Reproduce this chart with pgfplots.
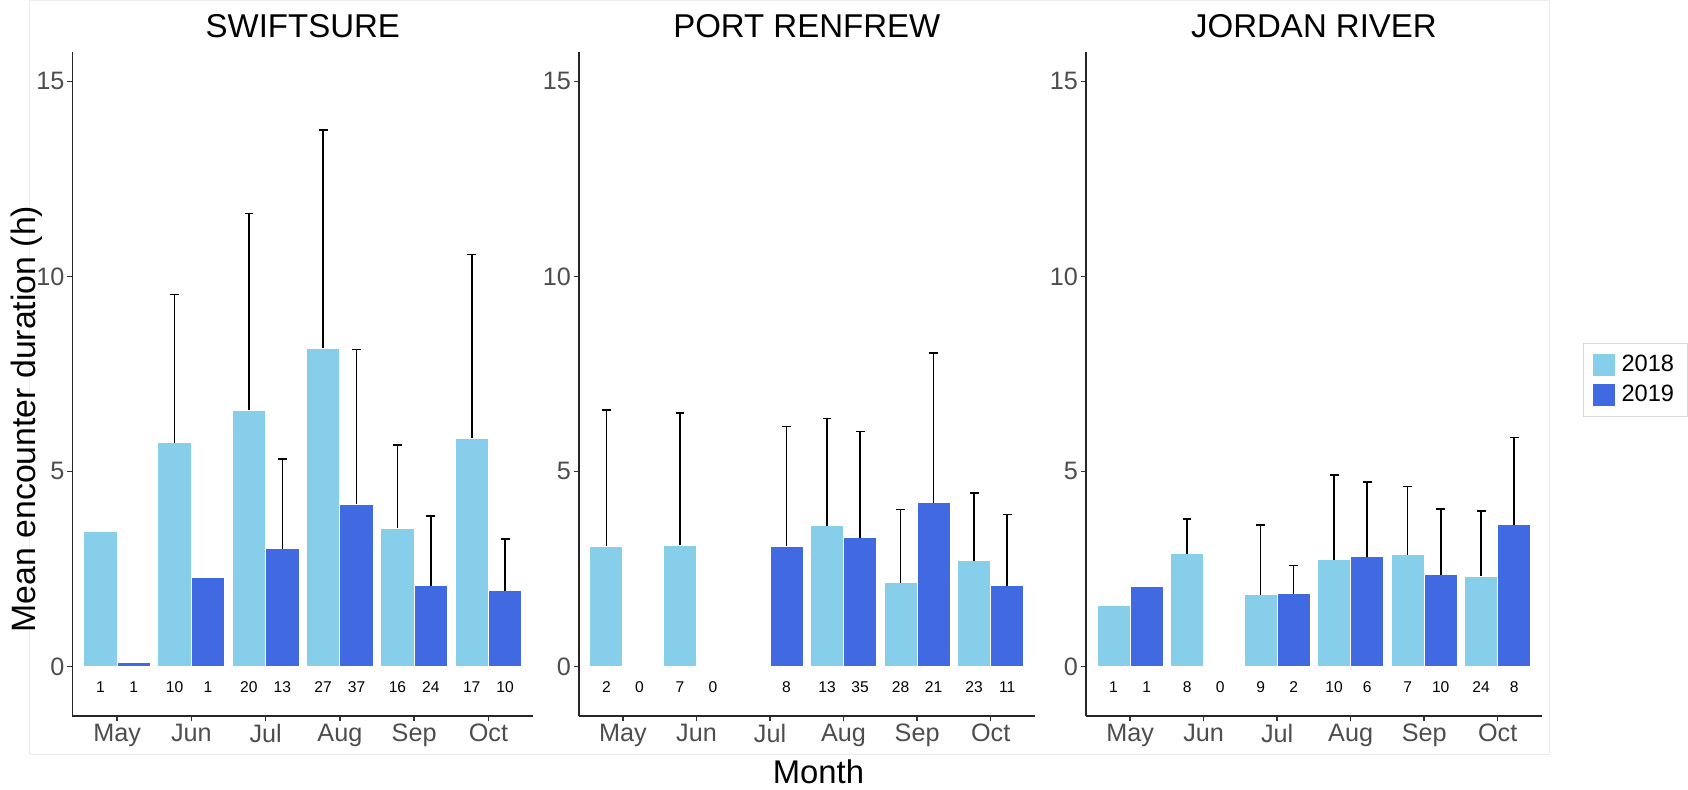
\documentclass[border=0pt]{standalone}
\usepackage{pgfplots}
\pgfplotsset{compat=1.18}
\usepackage{pgfplotstable}
\usepackage{fontspec}
\setmainfont{Liberation Sans}
\definecolor{c2018}{HTML}{87CEEB}
\definecolor{c2019}{HTML}{4169E1}
\definecolor{g30}{HTML}{4D4D4D}

% SWIFTSURE
\pgfplotstableread{
m y t
0 3.47 3.47
1 5.74 9.53
2 6.57 11.61
3 8.16 13.76
4 3.54 5.67
5 5.85 10.56
}\swA
\pgfplotstableread{
m y t
0 0.10 0.10
1 2.29 2.29
2 3.02 5.31
3 4.16 8.12
4 2.07 3.85
5 1.94 3.26
}\swB
\pgfplotstableread{
m y t
1 5.74 9.53
2 6.57 11.61
3 8.16 13.76
4 3.54 5.67
5 5.85 10.56
}\swAe
\pgfplotstableread{
m y t
2 3.02 5.31
3 4.16 8.12
4 2.07 3.85
5 1.94 3.26
}\swBe
\pgfplotstableread{
m n
0 1
1 10
2 20
3 27
4 16
5 17
}\swAn
\pgfplotstableread{
m n
0 1
1 1
2 13
3 37
4 24
5 10
}\swBn
% PORT RENFREW
\pgfplotstableread{
m y t
0 3.08 6.58
1 3.10 6.49
3 3.61 6.36
4 2.14 4.02
5 2.71 4.45
}\prA
\pgfplotstableread{
m y t
2 3.08 6.15
3 3.30 6.02
4 4.19 8.03
5 2.07 3.89
}\prB
\pgfplotstableread{
m n
0 2
1 7
3 13
4 28
5 23
}\prAn
\pgfplotstableread{
m n
0 0
1 0
2 8
3 35
4 21
5 11
}\prBn
% JORDAN RIVER
\pgfplotstableread{
m y t
0 1.55 1.55
1 2.89 3.78
2 1.84 3.62
3 2.73 4.90
4 2.86 4.61
5 2.31 3.98
}\jrA
\pgfplotstableread{
m y t
0 2.04 2.04
2 1.86 2.59
3 2.81 4.73
4 2.35 4.04
5 3.63 5.87
}\jrB
\pgfplotstableread{
m y t
1 2.89 3.78
2 1.84 3.62
3 2.73 4.90
4 2.86 4.61
5 2.31 3.98
}\jrAe
\pgfplotstableread{
m y t
2 1.86 2.59
3 2.81 4.73
4 2.35 4.04
5 3.63 5.87
}\jrBe
\pgfplotstableread{
m n
0 1
1 8
2 9
3 10
4 7
5 24
}\jrAn
\pgfplotstableread{
m n
0 1
1 0
2 2
3 6
4 10
5 8
}\jrBn

\pgfplotsset{
  panel/.style={
    scale only axis, height=331.9pt,
    xmin=-0.6, xmax=5.6, ymin=-1.28, ymax=15.74,
    axis x line*=bottom, axis y line*=left,
    axis line style={black!85, line width=0.9pt},
    xtick={0,...,5}, xticklabels={May,Jun,Jul,Aug,Sep,Oct},
    ytick={0,5,10,15}, yticklabels={0,5,10,15},
    tick style={black!80, line width=0.8pt},
    major tick length=2.6pt,
    tick align=outside,
    ticklabel style={font=\fontsize{12.6pt}{13pt}\selectfont, text=g30},
    yticklabel style={inner sep=1.2pt},
    xticklabel style={inner sep=1.0pt},
    clip=false,
  },
  b18/.style={ybar, bar width=0.45, bar shift=-0.225, fill=c2018, draw=white, line width=0.5pt},
  b19/.style={ybar, bar width=0.45, bar shift=0.225, fill=c2019, draw=white, line width=0.5pt},
  eb/.style={draw=none, mark=none, forget plot,
    error bars/.cd, y dir=plus, y explicit, error mark=none,
    error bar style={draw=black, solid, line width=0.8pt}},
  cap/.style={only marks, mark=-, mark size=2.2pt, black, line width=0.8pt, forget plot},
  cnt/.style={draw=none, mark=none, forget plot, nodes near coords, point meta=explicit symbolic,
    nodes near coords style={anchor=center, font=\fontsize{7.8pt}{8pt}\selectfont, text=black}},
}
% error bar (vertical line) and its cap, for a table and a shift
\newcommand{\errs}[2]{%
  \addplot[eb] table[x expr=\thisrow{m}#2,y=y,y error expr=\thisrow{t}-\thisrow{y}] {#1};
  \addplot[cap] table[x expr=\thisrow{m}#2,y=t] {#1};
}

\begin{document}
\begin{tikzpicture}
\useasboundingbox (0,0) rectangle (844pt,-395pt);
\draw[black!8, line width=0.5pt] (14.5pt,-0.25pt) rectangle (774.8pt,-377.5pt);

% SWIFTSURE
\begin{axis}[panel, width=230.25pt, at={(36.25pt,-26.25pt)}, anchor=north west]
\addplot[b18] table[x=m,y=y] {\swA};
\addplot[b19] table[x=m,y=y] {\swB};
\errs{\swAe}{-0.225}
\errs{\swBe}{+0.225}
\addplot[cnt] table[x expr=\thisrow{m}-0.225, y expr=-0.54, meta=n] {\swAn};
\addplot[cnt] table[x expr=\thisrow{m}+0.225, y expr=-0.54, meta=n] {\swBn};
\end{axis}

% PORT RENFREW
\begin{axis}[panel, width=228pt, at={(289.4pt,-26.25pt)}, anchor=north west]
\addplot[b18] table[x=m,y=y] {\prA};
\addplot[b19] table[x=m,y=y] {\prB};
\errs{\prA}{-0.225}
\errs{\prB}{+0.225}
\addplot[cnt] table[x expr=\thisrow{m}-0.225, y expr=-0.54, meta=n] {\prAn};
\addplot[cnt] table[x expr=\thisrow{m}+0.225, y expr=-0.54, meta=n] {\prBn};
\end{axis}

% JORDAN RIVER
\begin{axis}[panel, width=227.9pt, at={(543pt,-26.25pt)}, anchor=north west,
  legend style={at={(axis description cs:1.091,0.5066)}, anchor=west,
    draw=black!15, line width=0.5pt, font=\fontsize{11.8pt}{12pt}\selectfont,
    inner xsep=4.5pt, inner ysep=4pt, row sep=1.2pt,
    cells={anchor=west},
    /tikz/every odd column/.append style={column sep=1.5pt}}]
\addplot[b18, legend image code/.code={\fill[c2018] (0pt,-5.1pt) rectangle (10.4pt,5.1pt);}] table[x=m,y=y] {\jrA};
\addlegendentry{2018}
\addplot[b19, legend image code/.code={\fill[c2019] (0pt,-5.1pt) rectangle (10.4pt,5.1pt);}] table[x=m,y=y] {\jrB};
\addlegendentry{2019}
\errs{\jrAe}{-0.225}
\errs{\jrBe}{+0.225}
\addplot[cnt] table[x expr=\thisrow{m}-0.225, y expr=-0.54, meta=n] {\jrAn};
\addplot[cnt] table[x expr=\thisrow{m}+0.225, y expr=-0.54, meta=n] {\jrBn};
\end{axis}

\node[font=\fontsize{16.5pt}{17pt}\selectfont] at (151.4pt,-13pt) {SWIFTSURE};
\node[font=\fontsize{16.5pt}{17pt}\selectfont] at (403.4pt,-13pt) {PORT RENFREW};
\node[font=\fontsize{16.5pt}{17pt}\selectfont] at (657pt,-13pt) {JORDAN RIVER};
\node[font=\fontsize{16.9pt}{17pt}\selectfont, rotate=90, anchor=base] at (17.5pt,-209.5pt) {Mean encounter duration (h)};
\node[font=\fontsize{16.4pt}{17pt}\selectfont, anchor=base] at (409.25pt,-391.7pt) {Month};
\end{tikzpicture}
\end{document}
